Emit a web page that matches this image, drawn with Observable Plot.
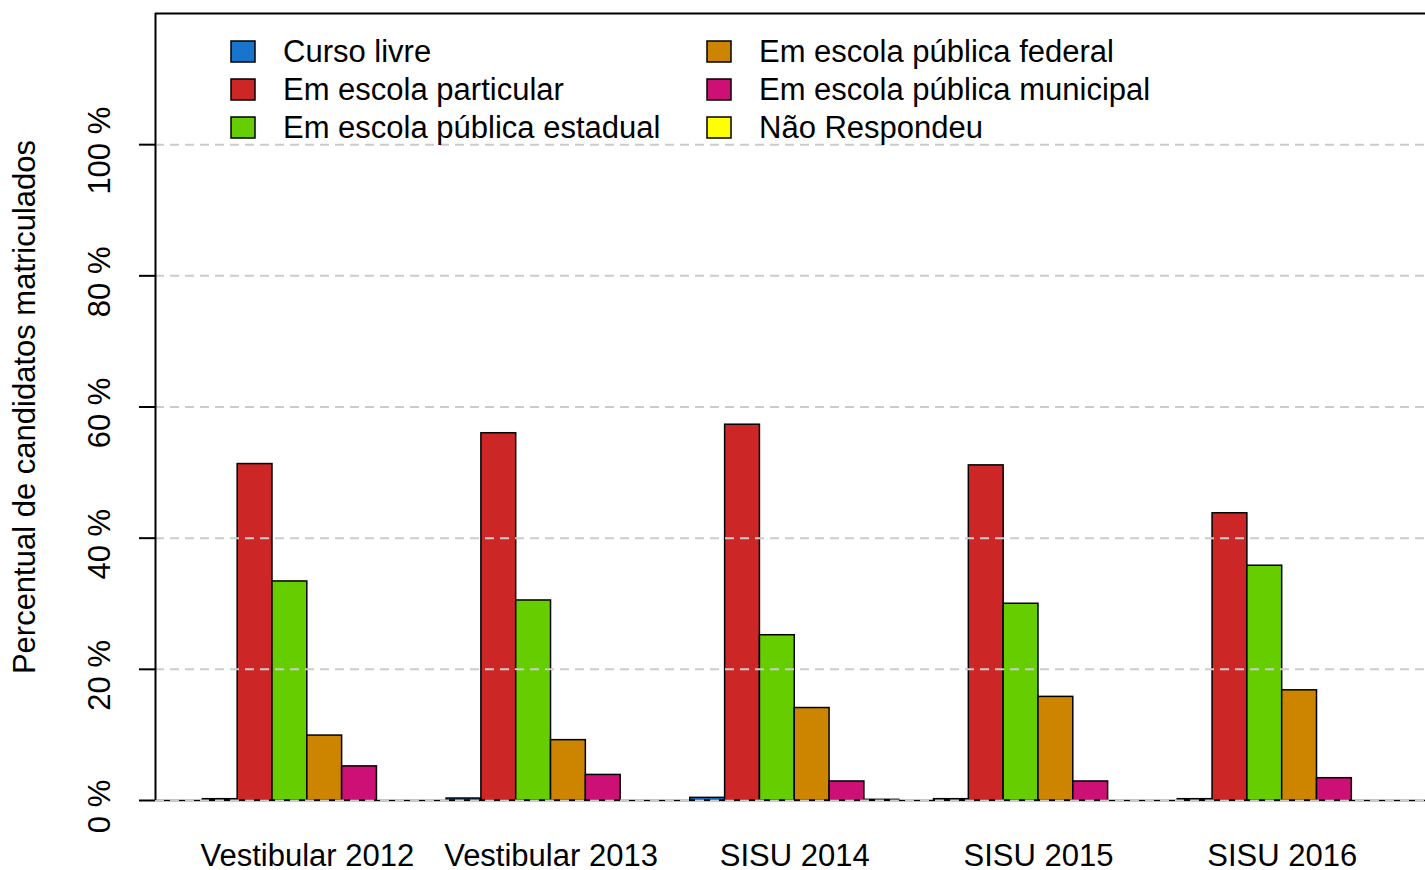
<!DOCTYPE html>
<html><head><meta charset="utf-8">
<script src="https://cdn.jsdelivr.net/npm/d3@7"></script>
<script src="https://cdn.jsdelivr.net/npm/@observablehq/plot@0.6"></script>
<style>html,body{margin:0;padding:0;background:#fff;overflow:hidden}</style>
</head><body><div id="chart"></div>
<script>
const groups = ["Vestibular 2012", "Vestibular 2013", "SISU 2014", "SISU 2015", "SISU 2016"];
const seriesNames = ["Curso livre", "Em escola particular", "Em escola pública estadual",
  "Em escola pública federal", "Em escola pública municipal", "Não Respondeu"];
const seriesColors = ["#1874CD", "#CD2626", "#66CD00", "#CD8500", "#CD1076", "#FFFF00"];
const cursoLivre   = [0.2, 0.3, 0.4, 0.2, 0.2];
const particular   = [51.3, 56.0, 57.3, 51.1, 43.8];
const estadual     = [33.4, 30.5, 25.2, 30.0, 35.8];
const federal      = [9.9, 9.2, 14.1, 15.8, 16.8];
const municipal    = [5.2, 3.9, 2.9, 2.9, 3.4];
const naoRespondeu = [0, 0, 0.1, 0, 0];
const yTicks = [0, 20, 40, 60, 80, 100];
const yTickLabels = ["0 %", "20 %", "40 %", "60 %", "80 %", "100 %"];
const yTitle = "Percentual de candidatos matriculados";

const seriesValues = [cursoLivre, particular, estadual, federal, municipal, naoRespondeu];
const nS = seriesNames.length;
const groupSize = nS + 1; // R barplot beside, space = c(0,1)
const data = [];
groups.forEach((g, gi) => {
  seriesValues.forEach((vals, si) => {
    const x1 = gi * groupSize + 1 + si;
    data.push({group: g, series: seriesNames[si], value: vals[gi], x1, x2: x1 + 1});
  });
});
const totalUnits = groups.length * groupSize;
const pad = (totalUnits - 1) * 0.04;
const xDomain = [1 - pad, totalUnits + pad];
const yDomain = [0, 120];
const FONT = "'Liberation Sans', Arial, Helvetica, sans-serif";
const W = 1425, H = 870, ML = 155, MT = 13, MB = 70;
const xRange = [ML, 1433.5];
const unitsPerPx = (xDomain[1] - xDomain[0]) / (xRange[1] - xRange[0]);
const tickLen = 16 * unitsPerPx;

const plot = Plot.plot({
  width: W, height: H,
  marginLeft: ML, marginTop: MT, marginBottom: MB, marginRight: 0,
  style: {fontFamily: FONT, fontSize: "31px", color: "black", background: "white", overflow: "hidden"},
  x: {type: "linear", domain: xDomain, range: xRange, axis: null},
  y: {domain: yDomain, axis: null},
  color: {domain: seriesNames, range: seriesColors},
  marks: [
    Plot.ruleY([0], {stroke: "black", strokeWidth: 1.5}),
    Plot.rect(data, {x1: "x1", x2: "x2", y1: 0, y2: "value", fill: "series", stroke: "black", strokeWidth: 1.5}),
    Plot.ruleY(yTicks, {stroke: "#cccccc", strokeWidth: 2, strokeDasharray: "9,6"}),
    Plot.ruleY([yDomain[1]], {stroke: "black", strokeWidth: 2}),
    Plot.ruleX([xDomain[0]], {y1: yDomain[0], y2: yDomain[1], stroke: "black", strokeWidth: 2}),
    Plot.ruleY(yTicks, {x1: xDomain[0] - tickLen, x2: xDomain[0], stroke: "black", strokeWidth: 2}),
    Plot.text(yTicks, {y: d => d, text: (d, i) => yTickLabels[i], frameAnchor: "left", dx: -55, dy: 6,
      rotate: -90, textAnchor: "middle", lineAnchor: "middle", fontSize: 31, fill: "black"}),
    Plot.text([yTitle], {text: d => d, frameAnchor: "left", dx: -130, rotate: -90,
      textAnchor: "middle", lineAnchor: "middle", fontSize: 31, fill: "black"}),
    Plot.text(groups, {x: (d, i) => i * groupSize + 1 + nS / 2, text: d => d, frameAnchor: "bottom",
      dy: 56, textAnchor: "middle", lineAnchor: "middle", fontSize: 31, fill: "black"})
  ]
});
document.getElementById("chart").appendChild(plot);

// legend inside the plot (top-left), two columns of three
const svg = d3.select(plot);
const lg = svg.append("g").attr("font-family", FONT).attr("font-size", 31).attr("text-anchor", "start");
seriesNames.forEach((name, i) => {
  const col = Math.floor(i / 3), row = i % 3;
  const x0 = 231 + col * 476, yc = 51.5 + row * 38;
  lg.append("rect").attr("x", x0).attr("y", yc - 10.5).attr("width", 24).attr("height", 21)
    .attr("fill", seriesColors[i]).attr("stroke", "black").attr("stroke-width", 1.5);
  lg.append("text").attr("x", x0 + 52).attr("y", yc).attr("dy", "0.35em")
    .attr("text-anchor", "start").attr("fill", "black").text(name);
});
</script>
</body></html>
